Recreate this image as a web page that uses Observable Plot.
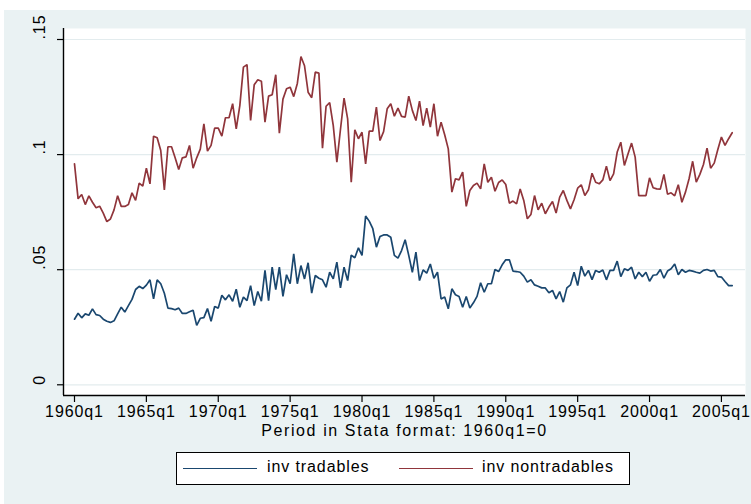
<!DOCTYPE html>
<html>
<head>
<meta charset="utf-8">
<script src="https://cdn.jsdelivr.net/npm/d3@7"></script>
<script src="https://cdn.jsdelivr.net/npm/@observablehq/plot@0.6"></script>
<style>
  html, body { margin: 0; padding: 0; background: white; }
  body { width: 751px; height: 504px; position: relative; overflow: hidden; font-family: "Liberation Sans", Arial, sans-serif; }
  #bg { position: absolute; left: 4px; top: 10px; width: 747px; height: 494px; background: #EAF2F3; }
  #chart { position: absolute; left: 0; top: 0; }
  #legend { position: absolute; left: 176px; top: 452px; width: 452px; height: 31px; background: white; border: 1.5px solid #000; }
  .key { position: absolute; top: 15px; width: 74px; height: 0; border-top: 1.5px solid; }
  .lab { position: absolute; top: 5px; font-size: 16px; letter-spacing: 0.9px; color: #000; white-space: nowrap; }
</style>
</head>
<body>
<div id="bg"></div>
<div id="chart"></div>
<div id="legend"></div>
<script>
// ---- data (quarterly, 1960q1 .. 2005q4) ----
const seriesNames = ["inv tradables", "inv nontradables"];
const seriesColors = ["#1A476F", "#90353B"];

const tradables = [
  .0285,.0311,.0291,.0308,.0302,.0330,.0305,.0301,.0285,.0276,
  .0271,.0278,.0308,.0337,.0316,.0344,.0371,.0414,.0428,.0418,
  .0433,.0456,.0373,.0456,.0439,.0398,.0333,.0331,.0326,.0333,
  .0310,.0310,.0317,.0324,.0258,.0289,.0292,.0331,.0276,.0340,
  .0333,.0389,.0369,.0391,.0363,.0415,.0337,.0381,.0366,.0431,
  .0344,.0405,.0363,.0497,.0366,.0511,.0413,.0511,.0384,.0478,
  .0439,.0569,.0439,.0518,.0460,.0530,.0398,.0475,.0463,.0456,
  .0424,.0489,.0460,.0533,.0421,.0511,.0453,.0563,.0552,.0595,
  .0562,.0733,.0711,.0678,.0598,.0644,.0651,.0651,.0641,.0562,
  .0550,.0583,.0630,.0562,.0489,.0576,.0453,.0499,.0485,.0525,
  .0463,.0489,.0373,.0381,.0330,.0417,.0391,.0384,.0337,.0384,
  .0334,.0356,.0384,.0443,.0402,.0439,.0439,.0501,.0492,.0521,
  .0543,.0543,.0494,.0492,.0489,.0472,.0446,.0456,.0434,.0428,
  .0421,.0421,.0400,.0410,.0373,.0405,.0359,.0421,.0434,.0489,
  .0431,.0515,.0472,.0497,.0457,.0497,.0489,.0499,.0456,.0497,
  .0497,.0537,.0470,.0504,.0497,.0511,.0460,.0489,.0470,.0489,
  .0450,.0476,.0478,.0501,.0463,.0494,.0504,.0525,.0478,.0501,
  .0489,.0497,.0494,.0489,.0485,.0497,.0501,.0494,.0497,.0470,
  .0468,.0449,.0431,.0431
];

const nontradables = [
  .0960,.0808,.0827,.0783,.0821,.0793,.0769,.0776,.0746,.0709,
  .0720,.0760,.0821,.0775,.0775,.0783,.0834,.0801,.0876,.0863,
  .0941,.0873,.1080,.1073,.1018,.0847,.1034,.1034,.0986,.0935,
  .0986,.0990,.1040,.0941,.0986,.1024,.1134,.1015,.1040,.1115,
  .1115,.1080,.1160,.1160,.1221,.1112,.1213,.1380,.1391,.1148,
  .1303,.1325,.1319,.1141,.1254,.1260,.1347,.1093,.1241,.1286,
  .1293,.1252,.1309,.1426,.1386,.1271,.1247,.1358,.1354,.1028,
  .1210,.1226,.1126,.0967,.1109,.1245,.1155,.0880,.1108,.1069,
  .1097,.0960,.1102,.1102,.1206,.1061,.1100,.1199,.1221,.1167,
  .1202,.1166,.1163,.1254,.1192,.1148,.1232,.1126,.1202,.1119,
  .1221,.1080,.1141,.1086,.1025,.0837,.0895,.0890,.0924,.0775,
  .0844,.0866,.0876,.0851,.0960,.0880,.0902,.0841,.0879,.0890,
  .0870,.0789,.0798,.0786,.0851,.0801,.0721,.0740,.0822,.0760,
  .0789,.0743,.0772,.0796,.0746,.0815,.0844,.0801,.0764,.0804,
  .0854,.0869,.0822,.0847,.0919,.0880,.0873,.0890,.0950,.0887,
  .0916,.1011,.1054,.0953,.1003,.1050,.0989,.0822,.0822,.0822,
  .0899,.0856,.0851,.0850,.0914,.0828,.0834,.0821,.0869,.0793,
  .0837,.0895,.0971,.0880,.0914,.0957,.1028,.0941,.0963,.1022,
  .1076,.1040,.1069,.1095
];

const xTicks = [0, 20, 40, 60, 80, 100, 120, 140, 160, 180];
const xTickLabels = ["1960q1","1965q1","1970q1","1975q1","1980q1","1985q1","1990q1","1995q1","2000q1","2005q1"];
const yTicks = [0, 0.05, 0.1, 0.15];
const yTickLabels = ["0", ".05", ".1", ".15"];
const xTitle = "Period in Stata format: 1960q1=0";

// ---- build table ----
const period = tradables.map((_, i) => i); // quarter index, 1960q1 = 0
const rows = [];
[tradables, nontradables].forEach((vals, s) => {
  vals.forEach((v, i) => rows.push({period: period[i], value: v, series: seriesNames[s]}));
});

const xDomain = [-3.06, 186.7];
const yDomain = [-0.00465, 0.15478];

const chart = Plot.plot({
  width: 751,
  height: 445,
  marginLeft: 63,
  marginRight: 6,
  marginTop: 28,
  marginBottom: 50,
  style: {background: "transparent", fontFamily: "'Liberation Sans', Arial, sans-serif", fontSize: "16px", letterSpacing: "0.9px", color: "#000"},
  x: {domain: xDomain, axis: null},
  y: {domain: yDomain, axis: null},
  color: {domain: seriesNames, range: seriesColors},
  marks: [
    Plot.frame({fill: "white", stroke: "none"}),
    Plot.ruleY(yTicks, {stroke: "#E3ECEE", strokeWidth: 1.2}),
    Plot.line(rows, {x: "period", y: "value", z: "series", stroke: "series", strokeWidth: 1.7, strokeLinejoin: "miter"}),
    Plot.ruleX([xDomain[0]], {stroke: "#000", strokeWidth: 1.4}),
    Plot.ruleY([yDomain[0]], {stroke: "#000", strokeWidth: 1.4}),
    Plot.axisX({ticks: xTicks, tickSize: 7, tickPadding: 3, tickFormat: d => xTickLabels[xTicks.indexOf(d)], label: null, fontSize: 16, stroke: "#000", strokeWidth: 1.2}),
    Plot.axisY({ticks: yTicks, tickSize: 6, tickFormat: () => "", label: null, stroke: "#000", strokeWidth: 1.2}),
    Plot.text(yTicks, {y: d => d, text: (d, i) => yTickLabels[i], frameAnchor: "left", dx: -24, rotate: -90, fontSize: 16, fill: "#000"}),
    Plot.text([xTitle], {text: d => d, frameAnchor: "bottom", dy: 40, fontSize: 16, fill: "#000", style: "letter-spacing:1.5px"})
  ]
});
document.getElementById("chart").appendChild(chart);
// widen the axis title spacing (Stata-like)
chart.querySelectorAll("text").forEach(t => { if (t.textContent === xTitle) t.setAttribute("letter-spacing", "1.6"); });

// ---- legend ----
const legend = document.getElementById("legend");
const keyLeft = [6, 222];
const labLeft = [90, 305];
seriesNames.forEach((name, s) => {
  const k = document.createElement("div");
  k.className = "key";
  k.style.left = keyLeft[s] + "px";
  k.style.borderTopColor = seriesColors[s];
  legend.appendChild(k);
  const l = document.createElement("div");
  l.className = "lab";
  l.style.left = labLeft[s] + "px";
  l.textContent = name;
  legend.appendChild(l);
});
</script>
</body>
</html>
